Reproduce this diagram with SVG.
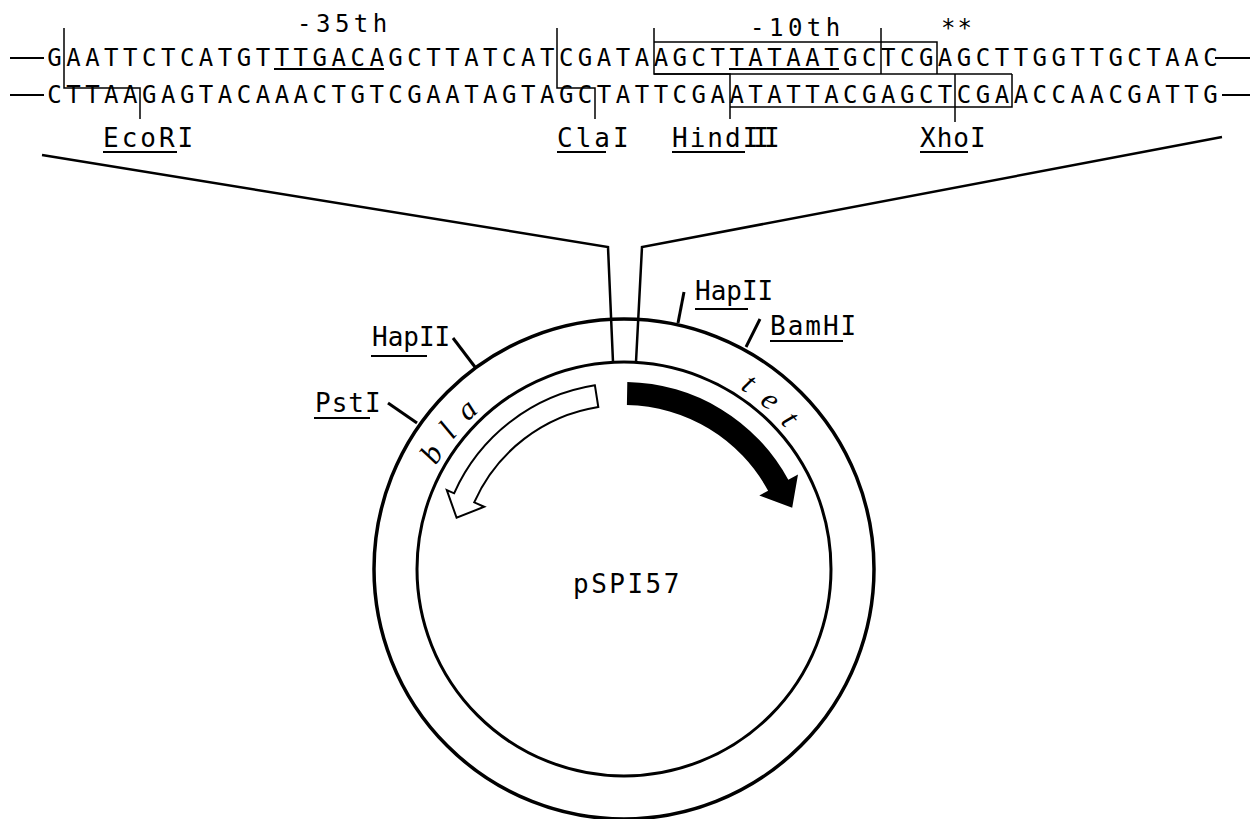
<svg xmlns="http://www.w3.org/2000/svg" width="1255" height="819" viewBox="0 0 1255 819">
<style>
.seq{font-family:"DejaVu Sans Mono","Liberation Mono",monospace;font-size:24px;letter-spacing:4.5px;fill:#000}
.lbl{font-family:"DejaVu Sans Mono","Liberation Mono",monospace;font-size:26px;fill:#000}
.gene{font-family:"Liberation Serif","DejaVu Serif",serif;font-style:italic;font-size:31px;fill:#000}
.thin{stroke:#000;stroke-width:1.5;fill:none}
.ul{stroke:#000;stroke-width:2;fill:none}
.tick{stroke:#000;stroke-width:3;fill:none}
.lead{stroke:#000;stroke-width:2.5;fill:none}
</style>
<rect width="1255" height="819" fill="#fff"/>
<defs>
<path id="ring" d="M 624 355 A 214 214 0 1 1 624 783 A 214 214 0 1 1 624 355"/>
</defs>
<g id="sequence">
<line class="ul" x1="10" y1="58" x2="44" y2="58"/>
<line class="ul" x1="10" y1="95" x2="44" y2="95"/>
<line class="ul" x1="1215" y1="58" x2="1250" y2="58"/>
<line class="ul" x1="1222" y1="95" x2="1250" y2="95"/>
<text class="seq" x="47.25" y="66">GAATTCTCATGTTTGACAGCTTATCATCGATAAGCTTATAATGCTCGAGCTTGGTTGCTAAC</text>
<text class="seq" x="47.25" y="103">CTTAAGAGTACAAACTGTCGAATAGTAGCTATTCGAATATTACGAGCTCGAACCAACGATTG</text>
<text class="seq" x="297" y="32">-35th</text>
<text class="seq" x="750" y="36">-10th</text>
<text class="seq" x="941" y="36" style="letter-spacing:2px">**</text>
<line class="ul" x1="274" y1="69" x2="384" y2="69"/>
<line class="ul" x1="729" y1="69" x2="839" y2="69"/>
</g>
<g id="sites">
<polyline class="thin" points="64,28 64,88 140,88 140,119"/>
<polyline class="thin" points="557,28 557,88 595,88 595,119"/>
<polyline class="thin" points="654,28 654,74 730,74 730,119"/>
<polyline class="thin" points="654,42 937,42 937,74"/>
<line class="thin" x1="654" y1="74" x2="1012" y2="74"/>
<polyline class="thin" points="730,107 1012,107 1012,74"/>
<line class="thin" x1="881" y1="28" x2="881" y2="74"/>
<line class="thin" x1="955" y1="74" x2="955" y2="122"/>
</g>
<g id="label-EcoRI">
<text class="lbl" x="103" y="147" style="letter-spacing:3px">EcoRI</text>
<line class="ul" x1="103" y1="152" x2="177" y2="152"/>
</g>
<g id="label-ClaI">
<text class="lbl" x="557" y="147" style="letter-spacing:3px">ClaI</text>
<line class="ul" x1="557" y1="152" x2="606" y2="152"/>
</g>
<g id="label-HindIII">
<text class="lbl" x="672" y="147" style="letter-spacing:2px">Hind<tspan style="letter-spacing:-5px">III</tspan></text>
<line class="ul" x1="672" y1="152" x2="745" y2="152"/>
</g>
<g id="label-XhoI">
<text class="lbl" x="920" y="147" style="letter-spacing:1px">XhoI</text>
<line class="ul" x1="920" y1="152" x2="968" y2="152"/>
</g>
<g id="connectors">
<polyline class="lead" points="42,155 608,247 613,362"/>
<polyline class="lead" points="1222,137 642,247 636,362"/>
</g>
<g id="plasmid">
<circle cx="624" cy="569" r="250" fill="none" stroke="#000" stroke-width="3.5"/>
<circle cx="624" cy="569" r="207" fill="none" stroke="#000" stroke-width="3"/>
<text class="lbl" x="573" y="593" style="letter-spacing:2.5px">pSPI57</text>
</g>
<g id="gene-tet">
<path d="M 627.3 382 A 187 187 0 0 1 788.3 479.8 L 798 474.5 L 792.2 507.8 L 759.3 495.5 L 768.1 490.7 A 164 164 0 0 0 626.9 405 Z" fill="#000"/>
<text class="gene" style="letter-spacing:15px"><textPath href="#ring" startOffset="160" text-anchor="middle">tet</textPath></text>
</g>
<g id="gene-bla">
<path d="M 594.9 385.3 A 186 186 0 0 0 454.1 493.3 L 446.8 490.1 L 456.6 517.8 L 484.2 506.8 L 474.2 502.3 A 164 164 0 0 1 598.3 407 Z" fill="#fff" stroke="#000" stroke-width="2"/>
<text class="gene" style="letter-spacing:15px"><textPath href="#ring" startOffset="1158" text-anchor="middle">bla</textPath></text>
</g>
<g id="site-HapII-right">
<line class="tick" x1="684" y1="292" x2="678" y2="323"/>
<text class="lbl" x="695" y="300">HapII</text>
<line class="ul" x1="695" y1="309" x2="748" y2="309"/>
</g>
<g id="site-BamHI">
<line class="tick" x1="760" y1="319" x2="746" y2="347"/>
<text class="lbl" x="770" y="335" style="letter-spacing:2px">BamHI</text>
<line class="ul" x1="770" y1="341" x2="843" y2="341"/>
</g>
<g id="site-HapII-left">
<line class="tick" x1="453" y1="338" x2="475" y2="367"/>
<text class="lbl" x="372" y="346">HapII</text>
<line class="ul" x1="371" y1="356" x2="427" y2="356"/>
</g>
<g id="site-PstI">
<line class="tick" x1="388" y1="403" x2="417" y2="423"/>
<text class="lbl" x="315" y="412" style="letter-spacing:1px">PstI</text>
<line class="ul" x1="314" y1="418" x2="370" y2="418"/>
</g>
</svg>
